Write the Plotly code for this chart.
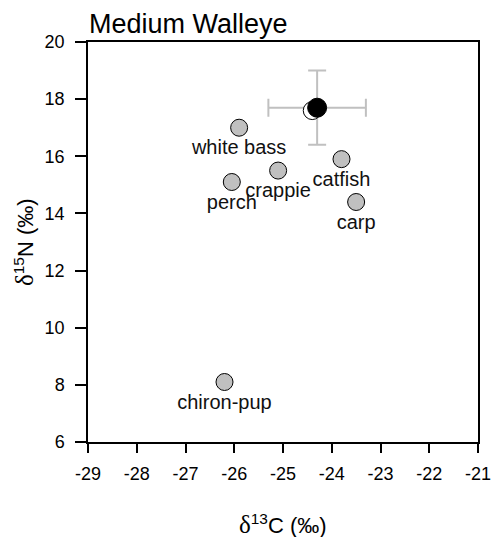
import plotly.graph_objects as go

# prey data
prey_names = ["white bass", "perch", "crappie", "catfish", "carp", "chiron-pup"]
prey_d13c = [-25.9, -26.05, -25.1, -23.8, -23.5, -26.2]
prey_d15n = [17.0, 15.1, 15.5, 15.9, 14.4, 8.1]

# walleye data
walleye_open_x = [-24.4]
walleye_open_y = [17.6]
walleye_mean_x = [-24.3]
walleye_mean_y = [17.7]
walleye_sd_x = [1.0]
walleye_sd_y = [1.3]

x_ticks = [-29, -28, -27, -26, -25, -24, -23, -22, -21]
x_ticktext = ["-29", "-28", "-27", "-26", "-25", "-24", "-23", "-22", "-21"]
y_ticks = [6, 8, 10, 12, 14, 16, 18, 20]
y_ticktext = ["6", "8", "10", "12", "14", "16", "18", "20"]

FONT = "Liberation Sans, Arial, sans-serif"

fig = go.Figure()

# error bars (behind markers)
fig.add_trace(go.Scatter(
    x=walleye_mean_x, y=walleye_mean_y, mode="markers",
    marker=dict(size=1, opacity=0),
    error_x=dict(type="data", array=walleye_sd_x, color="#c0c0c0", thickness=2, width=9),
    error_y=dict(type="data", array=walleye_sd_y, color="#c0c0c0", thickness=2, width=9),
    hoverinfo="skip", showlegend=False,
))

fig.add_trace(go.Scatter(
    x=walleye_open_x, y=walleye_open_y, mode="markers",
    marker=dict(size=18, color="white", line=dict(color="black", width=1)),
    showlegend=False,
))
fig.add_trace(go.Scatter(
    x=walleye_mean_x, y=walleye_mean_y, mode="markers",
    marker=dict(size=19, color="black", line=dict(color="black", width=1)),
    showlegend=False,
))

fig.add_trace(go.Scatter(
    x=prey_d13c, y=prey_d15n, mode="markers+text",
    text=prey_names, textposition="bottom center",
    textfont=dict(family=FONT, size=20, color="#111111"),
    marker=dict(size=17, color="#c0c0c0", line=dict(color="black", width=1)),
    showlegend=False,
))

axis_common = dict(
    showgrid=False, zeroline=False, showline=True, linecolor="black", linewidth=1.5,
    mirror=True, ticks="outside", tickwidth=1.5, tickcolor="black",
    tickfont=dict(family=FONT, size=18, color="black"),
)

fig.update_xaxes(range=[-29, -21], tickvals=x_ticks, ticktext=x_ticktext,
                 ticklen=9, ticklabelstandoff=6, **axis_common)
fig.update_yaxes(range=[6, 20], tickvals=y_ticks, ticktext=y_ticktext,
                 ticklen=11, ticklabelstandoff=7, **axis_common)

fig.update_layout(
    width=503, height=537,
    margin=dict(l=88, r=16, t=42, b=95),
    plot_bgcolor="white", paper_bgcolor="white",
    font=dict(family=FONT, color="black"),
    annotations=[
        dict(text="Medium Walleye", xref="paper", yref="paper", x=0, y=1,
             xanchor="left", yanchor="bottom", xshift=-1, yshift=1, showarrow=False,
             font=dict(family=FONT, size=27, color="black")),
        dict(text='<span style="font-family:Liberation Serif;font-size:25px">δ</span><sup>13</sup>C (‰)',
             xref="paper", yref="paper", x=0.5, y=0, xanchor="center", yanchor="middle",
             yshift=-82, showarrow=False, font=dict(family=FONT, size=22, color="black")),
        dict(text='<span style="font-family:Liberation Serif;font-size:25px">δ</span><sup>15</sup>N (‰)',
             xref="paper", yref="paper", x=0, y=0.5, xanchor="center", yanchor="middle",
             xshift=-64, textangle=-90, showarrow=False,
             font=dict(family=FONT, size=22, color="black")),
    ],
)

fig.write_html("out.html")
